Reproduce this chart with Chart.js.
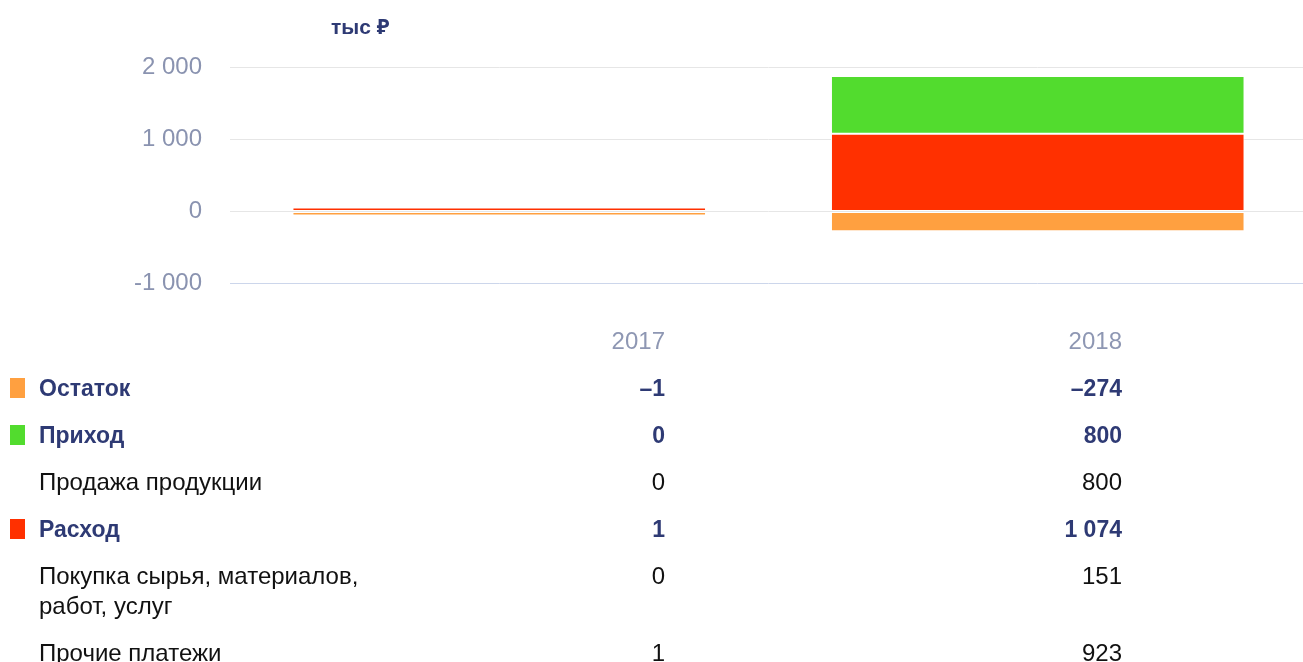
<!DOCTYPE html>
<html>
<head>
<meta charset="utf-8">
<script src="https://cdn.jsdelivr.net/npm/chart.js@4/dist/chart.umd.min.js"></script>
<style>
  html, body { margin: 0; padding: 0; background: #fff; overflow: hidden; }
  body { width: 1303px; height: 662px; position: relative; font-family: "Liberation Sans", "Noto Sans", "DejaVu Sans", sans-serif; }
  #unit { position: absolute; left: 331px; top: 12px; font-size: 21px; font-weight: bold; color: #2e3a74; z-index: 2; }
  #chartWrap { position: absolute; left: 0; top: 0; width: 1307px; height: 326px; }
  #table { position: absolute; left: 0; top: 317px; border-collapse: collapse; z-index: 2; }
  #table td { padding: 8.5px 0; line-height: 30px; font-size: 24px; vertical-align: top; }
  #table td.mark { width: 39px; }
  #table td.mark span { display: block; width: 15px; height: 20px; margin: 5px 0 0 10px; }
  #table td.label { width: 340px; }
  #table td.c1 { width: 286px; text-align: right; }
  #table td.c2 { width: 457px; text-align: right; }
  #table tr.head td { color: #8e97b3; }
  #table tr.bold td { font-weight: bold; color: #2e3a74; font-size: 23px; }
  #table tr.plain td { color: #111; }
</style>
</head>
<body>
<div id="unit">тыс ₽</div>
<div id="chartWrap"><canvas id="flowChart" width="1307" height="326"></canvas></div>
<table id="table"></table>
<script>
  // Data
  const years = ['2017', '2018'];
  const balance = [-1, -274];      // Остаток
  const income = [0, 800];         // Приход
  const sales = [0, 800];          // Продажа продукции
  const expense = [1, 1074];       // Расход
  const purchases = [0, 151];      // Покупка сырья, материалов, работ, услуг
  const otherPayments = [1, 923];  // Прочие платежи
  const yTicks = [-1000, 0, 1000, 2000];

  const colors = { balance: '#ffa040', income: '#52dc2e', expense: '#ff3000' };

  function fmt(v) {
    const s = String(Math.abs(v)).replace(/\B(?=(\d{3})+(?!\d))/g, ' ');
    return (v < 0 ? '-' : '') + s;
  }
  function fmtTable(v) {
    const s = String(Math.abs(v)).replace(/\B(?=(\d{3})+(?!\d))/g, ' ');
    return (v < 0 ? '–' : '') + s;
  }

  // Chart
  const ctx = document.getElementById('flowChart').getContext('2d');
  new Chart(ctx, {
    type: 'bar',
    data: {
      labels: years,
      datasets: [
        { label: 'Остаток', data: balance, backgroundColor: colors.balance, minBarLength: 4 },
        { label: 'Расход', data: expense, backgroundColor: colors.expense, minBarLength: 4 },
        { label: 'Приход', data: income.map(v => v === 0 ? null : v), backgroundColor: colors.income }
      ]
    },
    options: {
      responsive: false,
      animation: false,
      layout: { padding: { top: 67, bottom: 0, right: 0, left: 0 } },
      datasets: {
        bar: {
          borderColor: '#ffffff',
          borderWidth: 1,
          borderSkipped: false,
          barPercentage: 0.768,
          categoryPercentage: 1
        }
      },
      plugins: {
        legend: { display: false },
        tooltip: { enabled: false }
      },
      scales: {
        x: {
          stacked: true,
          display: false
        },
        y: {
          stacked: true,
          min: yTicks[0],
          max: yTicks[yTicks.length - 1],
          afterBuildTicks: function(scale) {
            scale.ticks = yTicks.map(v => ({ value: v }));
          },
          afterFit: function(scale) {
            scale.width = 230;
          },
          border: { display: false },
          grid: {
            drawTicks: false,
            lineWidth: 1,
            color: function(c) {
              return c.tick && c.tick.value === yTicks[0] ? '#ccd6eb' : '#e6e6e6';
            }
          },
          ticks: {
            padding: 28,
            color: '#8a93b0',
            font: { family: 'Liberation Sans', size: 24 },
            callback: function(v) { return fmt(v); }
          }
        }
      }
    }
  });

  // Table under the chart
  const rows = [
    { type: 'head', label: '', values: years },
    { type: 'bold', label: 'Остаток', color: colors.balance, values: balance },
    { type: 'bold', label: 'Приход', color: colors.income, values: income },
    { type: 'plain', label: 'Продажа продукции', values: sales },
    { type: 'bold', label: 'Расход', color: colors.expense, values: expense },
    { type: 'plain', label: 'Покупка сырья, материалов, работ, услуг', values: purchases },
    { type: 'plain', label: 'Прочие платежи', values: otherPayments }
  ];

  const table = document.getElementById('table');
  rows.forEach(r => {
    const tr = document.createElement('tr');
    tr.className = r.type;
    const mark = document.createElement('td');
    mark.className = 'mark';
    if (r.color) {
      const sq = document.createElement('span');
      sq.style.background = r.color;
      mark.appendChild(sq);
    }
    tr.appendChild(mark);
    const label = document.createElement('td');
    label.className = 'label';
    label.textContent = r.label;
    tr.appendChild(label);
    r.values.forEach((v, i) => {
      const td = document.createElement('td');
      td.className = i === 0 ? 'c1' : 'c2';
      td.textContent = r.type === 'head' ? v : fmtTable(v);
      tr.appendChild(td);
    });
    table.appendChild(tr);
  });
</script>
</body>
</html>
